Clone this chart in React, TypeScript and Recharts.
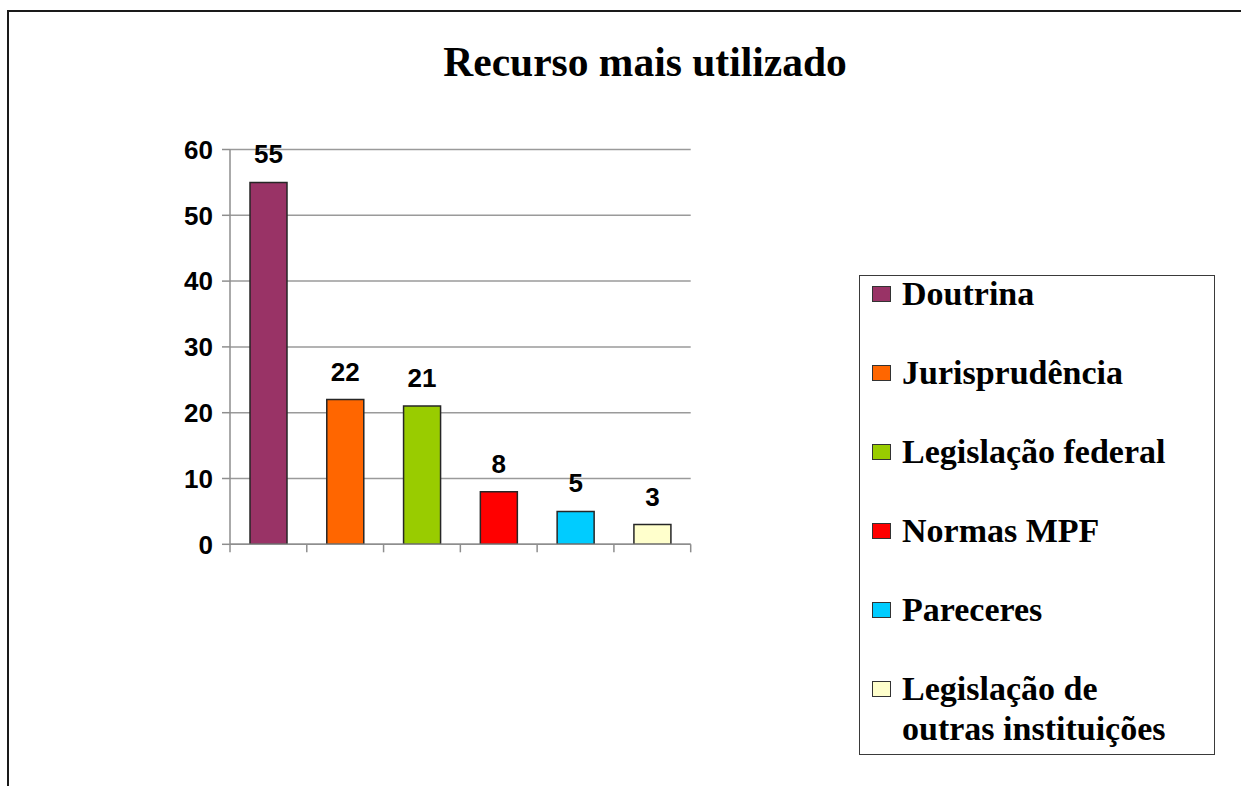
import {
  Bar,
  BarChart,
  CartesianGrid,
  Cell,
  LabelList,
  Legend,
  XAxis,
  YAxis,
} from "recharts";

const categories = [
  "Doutrina",
  "Jurisprudência",
  "Legislação federal",
  "Normas MPF",
  "Pareceres",
  "Legislação de outras instituições",
];
const values = [55, 22, 21, 8, 5, 3];
const colors = ["#993366", "#ff6600", "#99cc00", "#ff0000", "#00ccff", "#ffffcc"];
const yTicks = [0, 10, 20, 30, 40, 50, 60];

const data = categories.map((name, i) => ({ name, value: values[i] }));

const sans = '"Liberation Sans", Arial, sans-serif';
const serif = '"Liberation Serif", "Times New Roman", serif';
const axisGray = "#8e8e8e";

// Excel puts the category tick marks between the bars, not under them
function BoundaryTick(props: any) {
  const { x, y, payload, index } = props;
  const half = payload?.offset ?? 0;
  const xs = index === categories.length - 1 ? [x - half, x + half] : [x - half];
  return (
    <g>
      {xs.map((tx) => (
        <line key={tx} x1={tx} x2={tx} y1={y} y2={y + 8} stroke={axisGray} strokeWidth={1.5} />
      ))}
    </g>
  );
}

function LegendBox() {
  return (
    <div
      style={{
        boxSizing: "border-box",
        width: 356,
        height: 480,
        border: "1.5px solid #3a3a3a",
        background: "#fff",
        paddingLeft: 12,
        fontFamily: serif,
        fontWeight: "bold",
        fontSize: 34,
        lineHeight: "40px",
        color: "#000",
      }}
    >
      <div style={{ marginTop: -2 }}>
        {categories.map((name, i) => (
          <div key={name} style={{ display: "flex", alignItems: "flex-start", marginBottom: 39 }}>
            <span
              style={{
                boxSizing: "border-box",
                width: 19,
                height: 16,
                marginTop: 12,
                marginRight: 11,
                flex: "none",
                background: colors[i],
                border: "1px solid #333",
              }}
            />
            <span style={{ width: 285 }}>{name}</span>
          </div>
        ))}
      </div>
    </div>
  );
}

export default function App() {
  return (
    <div
      style={{
        position: "fixed",
        left: 0,
        top: 0,
        width: 1241,
        height: 786,
        overflow: "hidden",
        background: "#fff",
      }}
    >
      <div
        style={{
          position: "absolute",
          left: 7,
          top: 10,
          width: 1240,
          height: 780,
          borderTop: "2px solid #1a1a1a",
          borderLeft: "2px solid #1a1a1a",
        }}
      />
      <div
        style={{
          position: "absolute",
          left: 345,
          top: 42,
          width: 600,
          textAlign: "center",
          fontFamily: serif,
          fontWeight: "bold",
          fontSize: 41.5,
          lineHeight: "40px",
          color: "#000",
        }}
      >
        Recurso mais utilizado
      </div>
      <div style={{ position: "absolute", left: 0, top: 0 }}>
        <BarChart
          width={1241}
          height={786}
          data={data}
          margin={{ top: 149.5, right: 550.3, bottom: 211.7, left: 170 }}
        >
          <CartesianGrid horizontal vertical={false} stroke="#9a9a9a" strokeWidth={1.5} />
          <XAxis
            dataKey="name"
            height={30}
            tickLine={false}
            tickSize={0}
            tickMargin={0}
            interval={0}
            tick={<BoundaryTick />}
            stroke={axisGray}
            strokeWidth={1.5}
          />
          <YAxis
            domain={[0, 60]}
            ticks={yTicks}
            width={60}
            tickSize={8}
            tickMargin={9}
            stroke={axisGray}
            strokeWidth={1.5}
            tick={{ fill: "#000", fontFamily: sans, fontWeight: "bold", fontSize: 26 }}
          />
          <Legend
            layout="vertical"
            align="center"
            verticalAlign="middle"
            width={356}
            height={480}
            wrapperStyle={{ left: 859, top: 275, width: 356, height: 480 }}
            content={() => <LegendBox />}
          />
          <Bar dataKey="value" barSize={37} stroke="#262626" strokeWidth={1.5} isAnimationActive={false}>
            {data.map((d, i) => (
              <Cell key={d.name} fill={colors[i]} />
            ))}
            <LabelList
              dataKey="value"
              position="top"
              offset={19}
              fill="#000"
              style={{ fontFamily: sans, fontWeight: "bold", fontSize: 26 }}
            />
          </Bar>
        </BarChart>
      </div>
    </div>
  );
}
